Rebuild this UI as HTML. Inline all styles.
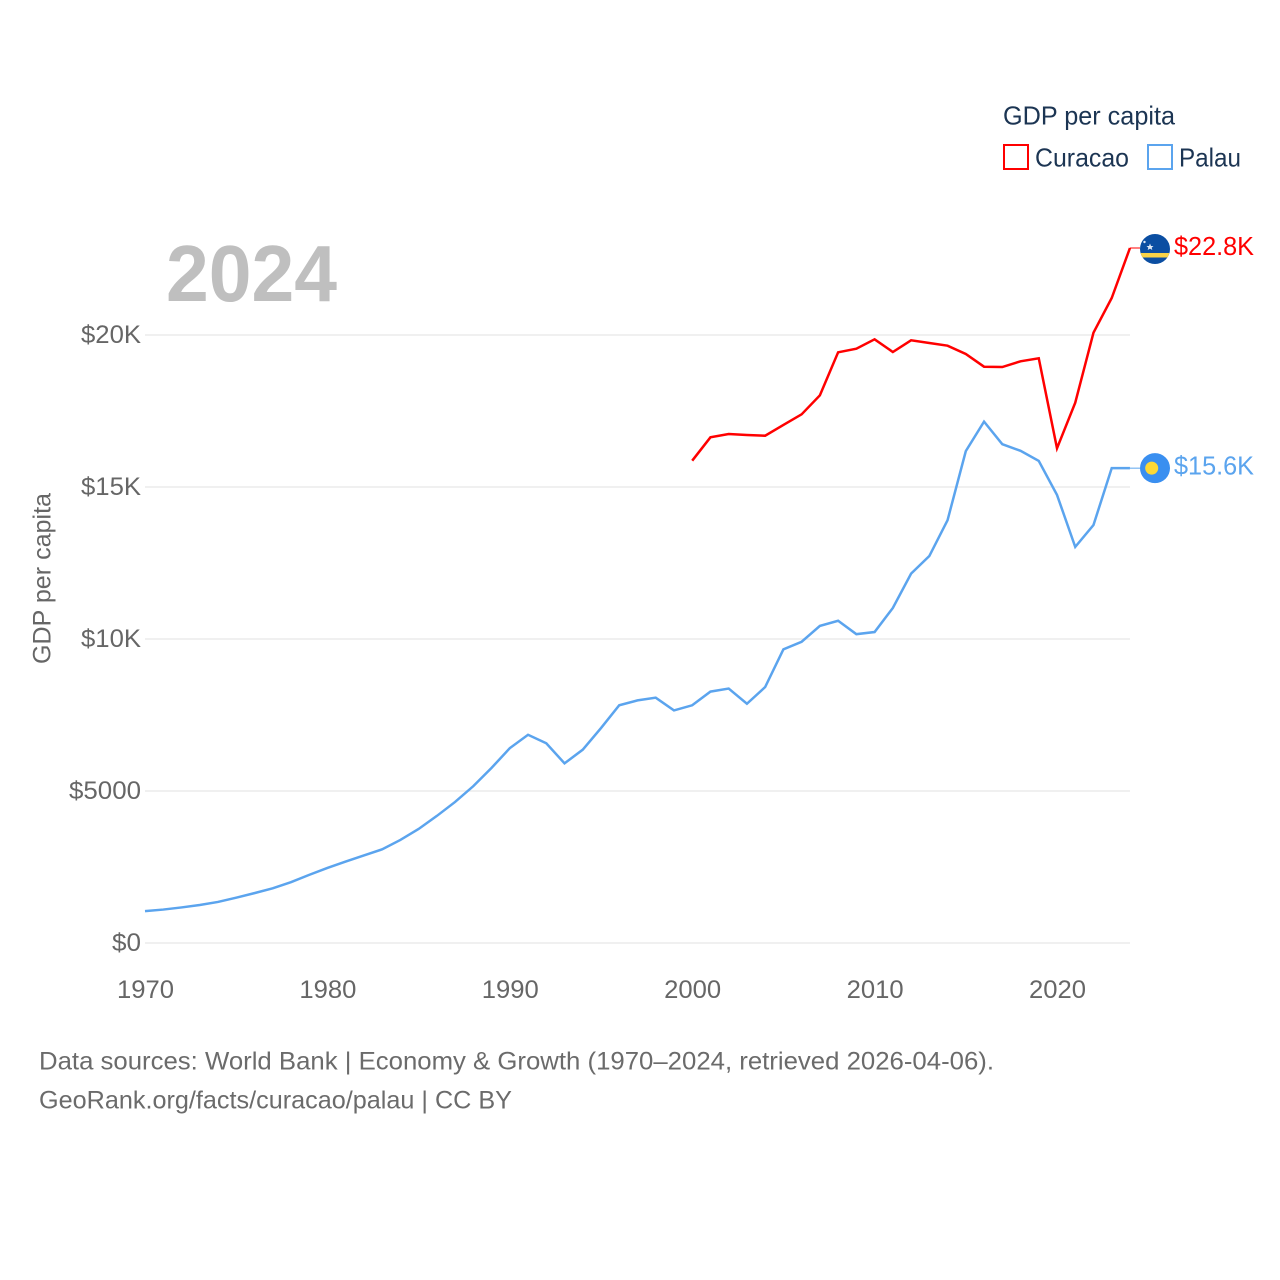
<!DOCTYPE html>
<html lang="en">
<head>
<meta charset="utf-8">
<title>GDP per capita: Curacao and Palau</title>
<style>
html,body{margin:0;padding:0;background:#fff;width:1280px;height:1280px;overflow:hidden}
svg{display:block}
text{font-family:"Liberation Sans",sans-serif}
</style>
</head>
<body>
<svg id="chart" width="1280" height="1280" viewBox="0 0 1280 1280" xmlns="http://www.w3.org/2000/svg">
  <defs>
    <clipPath id="curacao-clip"><circle cx="0" cy="0" r="15"/></clipPath>
  </defs>
  <g id="grid"></g>
  <g id="yticks"></g>
  <g id="xticks"></g>
  <text x="166" y="301" font-size="80" font-weight="700" fill="#bfbfbf" textLength="171" lengthAdjust="spacingAndGlyphs">2024</text>
  <text transform="translate(50.5,664) rotate(-90)" font-size="25" fill="#666" textLength="171" lengthAdjust="spacingAndGlyphs">GDP per capita</text>
  <g id="series"></g>
  <g id="ends"></g>
  <g>
    <text x="1003" y="124.5" font-size="26" fill="#1c3553" textLength="172" lengthAdjust="spacingAndGlyphs">GDP per capita</text>
    <rect x="1004" y="145" width="24" height="24" fill="none" stroke="#ff0000" stroke-width="2"/>
    <text x="1035" y="166.5" font-size="26" fill="#1c3553" textLength="94" lengthAdjust="spacingAndGlyphs">Curacao</text>
    <rect x="1148" y="145" width="24" height="24" fill="none" stroke="#5ba4ee" stroke-width="2"/>
    <text x="1179" y="166.5" font-size="26" fill="#1c3553" textLength="62" lengthAdjust="spacingAndGlyphs">Palau</text>
  </g>
  <g>
    <text x="39" y="1069.5" font-size="25" fill="#6b6b6b" textLength="955" lengthAdjust="spacingAndGlyphs">Data sources: World Bank | Economy &amp; Growth (1970–2024, retrieved 2026-04-06).</text>
    <text x="39" y="1108.5" font-size="25" fill="#6b6b6b" textLength="473" lengthAdjust="spacingAndGlyphs">GeoRank.org/facts/curacao/palau | CC BY</text>
  </g>
</svg>
<script>
var xTickYears = [1970, 1980, 1990, 2000, 2010, 2020];
var xTickLabels = ["1970", "1980", "1990", "2000", "2010", "2020"];
var yTickValues = [0, 5000, 10000, 15000, 20000];
var yTickLabels = ["$0", "$5000", "$10K", "$15K", "$20K"];
var palauStartYear = 1970;
var palauValues = [1050,1100,1170,1250,1350,1490,1640,1800,2000,2240,2470,2680,2880,3080,3390,3750,4180,4640,5160,5760,6410,6850,6570,5910,6360,7070,7820,7980,8070,7650,7820,8270,8370,7870,8420,9660,9910,10430,10600,10160,10230,11020,12150,12730,13910,16180,17150,16410,16190,15860,14740,13030,13750,15620,15620];
var curacaoStartYear = 2000;
var curacaoValues = [15865,16635,16743,16710,16688,17040,17391,18016,19431,19549,19859,19441,19826,19737,19648,19375,18957,18947,19135,19234,16273,17773,20076,21217,22862];
var palauEndLabel = "$15.6K";
var curacaoEndLabel = "$22.8K";

var NS = "http://www.w3.org/2000/svg";
function xScale(year) { return 145 + (year - 1970) * 18.24; }
function yScale(value) { return 943 - value * 0.0304; }
function make(parent, tag, attrs, text) {
  var el = document.createElementNS(NS, tag);
  for (var k in attrs) { el.setAttribute(k, attrs[k]); }
  if (text !== undefined) { el.textContent = text; }
  parent.appendChild(el);
  return el;
}
function linePoints(startYear, values) {
  return values.map(function (v, i) {
    return xScale(startYear + i).toFixed(2) + "," + yScale(v).toFixed(2);
  }).join(" ");
}
function tickWidth(label) {
  if (label.length <= 2) { return 29; }
  return label.length >= 5 ? 72 : 60;
}

var grid = document.getElementById("grid");
var yticks = document.getElementById("yticks");
yTickValues.forEach(function (v, i) {
  var gl = make(grid, "line", { x1: 145, x2: 1130, y1: yScale(v), y2: yScale(v), stroke: "#ebebeb", "stroke-width": 1.5 });
  
  
  var t = make(yticks, "text", { x: 141, y: yScale(v) + 8, "text-anchor": "end", "font-size": 25, fill: "#666", textLength: tickWidth(yTickLabels[i]), lengthAdjust: "spacingAndGlyphs" }, yTickLabels[i]);
  
  
});

var xticks = document.getElementById("xticks");
xTickYears.forEach(function (y, i) {
  var t = make(xticks, "text", { x: xScale(y) + 0.5, y: 998, "text-anchor": "middle", "font-size": 25, fill: "#666", textLength: 57, lengthAdjust: "spacingAndGlyphs" }, xTickLabels[i]);
  
  
});

var series = document.getElementById("series");
var palauLine = make(series, "polyline", { points: linePoints(palauStartYear, palauValues), fill: "none", stroke: "#5ba4ee", "stroke-width": 2.5, "stroke-linejoin": "miter" });


var curacaoLine = make(series, "polyline", { points: linePoints(curacaoStartYear, curacaoValues), fill: "none", stroke: "#ff0000", "stroke-width": 2.5, "stroke-linejoin": "miter" });



var ends = document.getElementById("ends");
var palauY = yScale(palauValues[palauValues.length - 1]);
var curacaoY = yScale(curacaoValues[curacaoValues.length - 1]);

var pc = make(ends, "line", { x1: 1130, x2: 1140, y1: palauY, y2: palauY, stroke: "#5ba4ee", "stroke-width": 1 });


var cc = make(ends, "line", { x1: 1130, x2: 1140, y1: curacaoY, y2: curacaoY, stroke: "#ff0000", "stroke-width": 1 });



var cf = make(ends, "g", { transform: "translate(1155," + (curacaoY + 1) + ")", "clip-path": "url(#curacao-clip)" });


make(cf, "rect", { x: -15, y: -15, width: 30, height: 30, fill: "#0b4ea2" });
make(cf, "rect", { x: -15, y: 4, width: 30, height: 4.5, fill: "#f9d348" });
make(cf, "polygon", { points: "-5,-5.5 -4,-3 -1.5,-3 -3.3,-1.4 -2.7,1 -5,-0.4 -7.3,1 -6.7,-1.4 -8.5,-3 -6,-3", fill: "#dfe8f5" });
make(cf, "circle", { cx: -10.5, cy: -7, r: 1.2, fill: "#dfe8f5" });

var pf = make(ends, "g", { transform: "translate(1155," + palauY + ")" });


make(pf, "circle", { cx: 0, cy: 0, r: 15, fill: "#3a8ff0" });
make(pf, "circle", { cx: -3.3, cy: 0, r: 6.5, fill: "#fdd835" });

var cl = make(ends, "text", { x: 1174, y: curacaoY + 7, "font-size": 26, fill: "#ff0000", textLength: 80, lengthAdjust: "spacingAndGlyphs" }, curacaoEndLabel);


var pl = make(ends, "text", { x: 1174, y: palauY + 6.5, "font-size": 26, fill: "#5ba4ee", textLength: 80, lengthAdjust: "spacingAndGlyphs" }, palauEndLabel);


</script>
</body>
</html>
